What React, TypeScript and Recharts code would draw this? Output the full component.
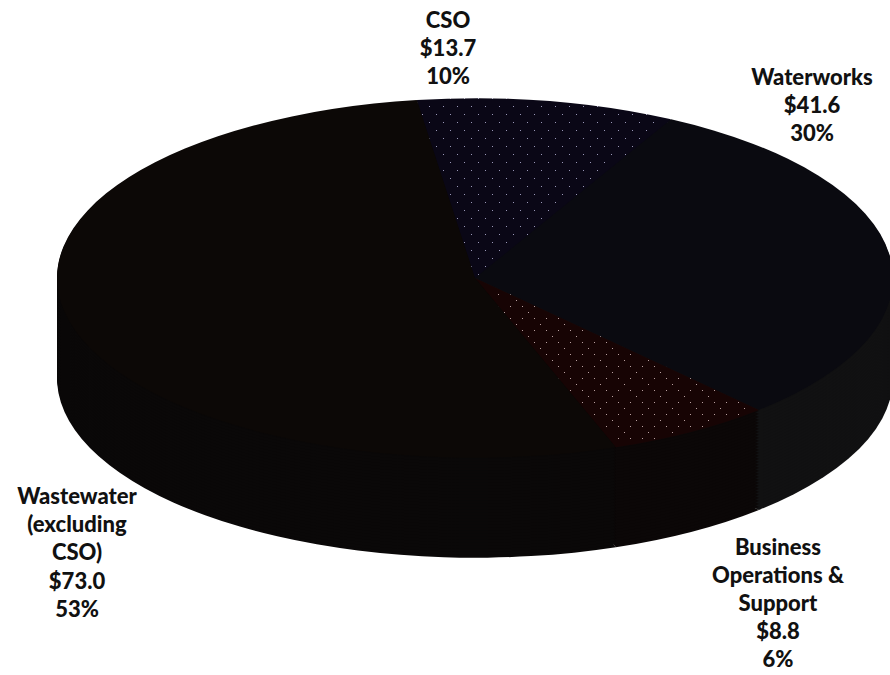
import React from 'react';
import { PieChart, Pie, Cell } from 'recharts';

// ---- data ----
const categories = ['CSO', 'Waterworks', 'Business Operations & Support', 'Wastewater (excluding CSO)'];
const amounts = [13.7, 41.6, 8.8, 73.0];
const labelNameLines = [
  ['CSO'],
  ['Waterworks'],
  ['Business', 'Operations &', 'Support'],
  ['Wastewater', '(excluding', 'CSO)'],
];

const data = categories.map((name, i) => ({ name, value: amounts[i] }));

// ---- styles / layout ----
const W = 890;
const H = 675;
const K = 0.43; // vertical squash of the 3D ellipse
const CX = 475;
const CY = 278; // on-screen centre of top face
const R = 418;
const DEPTH = 100;
const STEP = 3;
const START = 98;

const topFills = ['url(#csoDots)', '#0a0a10', 'url(#bizGrid)', '#0c0806'];
const sideFills = ['#0b0816', '#111112', '#0b0707', '#0a0808'];

const LABEL_POS = [
  { x: 448, y: 28 },
  { x: 812, y: 85 },
  { x: 778, y: 555 },
  { x: 77, y: 504 },
];
const LINE_H = 28.2;
const LINE_H_BIZ = 27.9;

const depthOffsets: number[] = [];
for (let d = DEPTH; d > 0; d -= STEP) depthOffsets.push(d);

const renderLabel = (props: any) => {
  const i = props.index;
  const pos = LABEL_POS[i];
  const lh = i === 2 ? LINE_H_BIZ : LINE_H;
  const lines = [
    ...labelNameLines[i],
    `$${amounts[i].toFixed(1)}`,
    `${Math.round(props.percent * 100)}%`,
  ];
  return (
    <text
      key={`lbl-${i}`}
      x={pos.x}
      y={pos.y}
      textAnchor="middle"
      fontFamily="Lato, 'Open Sans', sans-serif"
      fontWeight={900}
      fontSize={22}
      fill="#111"
    >
      {lines.map((l, j) => (
        <tspan key={j} x={pos.x} y={pos.y + j * lh}>
          {l}
        </tspan>
      ))}
    </text>
  );
};

const dot = (x: number, y: number, c: string, k: string) => (
  <rect key={k} x={x} y={y / K} width={1} height={1 / K} fill={c} />
);

export default function App() {
  const bizDots: [number, number][] = [
    [0, 0], [6, 6], [12, 12], [18, 18], [18, 6], [6, 18],
  ];
  return (
    <div style={{ width: W, height: H, position: 'relative', background: '#fff' }}>
      <style>{`
        body { margin: 0; }
        .pie3d path.recharts-sector { transform: scaleY(${K}); transform-box: view-box; transform-origin: 0 0; }
      `}</style>
      <svg width={0} height={0} style={{ position: 'absolute' }}>
        <defs>
          <pattern id="csoDots" patternUnits="userSpaceOnUse" width={14} height={16 / K}>
            <rect x={0} y={0} width={14} height={16 / K} fill="#0a0716" />
            {dot(2, 2, '#9a98b8', 'a')}
            {dot(9, 10, '#9a98b8', 'b')}
          </pattern>
          <pattern id="bizGrid" patternUnits="userSpaceOnUse" width={24} height={24 / K}>
            <rect x={0} y={0} width={24} height={24 / K} fill="#170404" />
            {bizDots.map(([x, y], j) => dot(x, y, '#b8a0a0', `g${j}`))}
          </pattern>
        </defs>
      </svg>
      <PieChart width={W} height={H} className="pie3d" margin={{ top: 0, right: 0, bottom: 0, left: 0 }}>
        {depthOffsets.map((d) => (
          <Pie
            key={`depth-${d}`}
            data={data}
            dataKey="value"
            nameKey="name"
            cx={CX}
            cy={(CY + d) / K}
            outerRadius={R}
            startAngle={START}
            endAngle={START - 360}
            stroke="none"
            isAnimationActive={false}
            label={false}
            labelLine={false}
          >
            {data.map((_, i) => (
              <Cell key={i} fill={sideFills[i]} />
            ))}
          </Pie>
        ))}
        <Pie
          data={data}
          dataKey="value"
          nameKey="name"
          cx={CX}
          cy={CY / K}
          outerRadius={R}
          startAngle={START}
          endAngle={START - 360}
          stroke="none"
          isAnimationActive={false}
          label={renderLabel}
          labelLine={false}
        >
          {data.map((_, i) => (
            <Cell key={i} fill={topFills[i]} />
          ))}
        </Pie>
      </PieChart>
    </div>
  );
}
